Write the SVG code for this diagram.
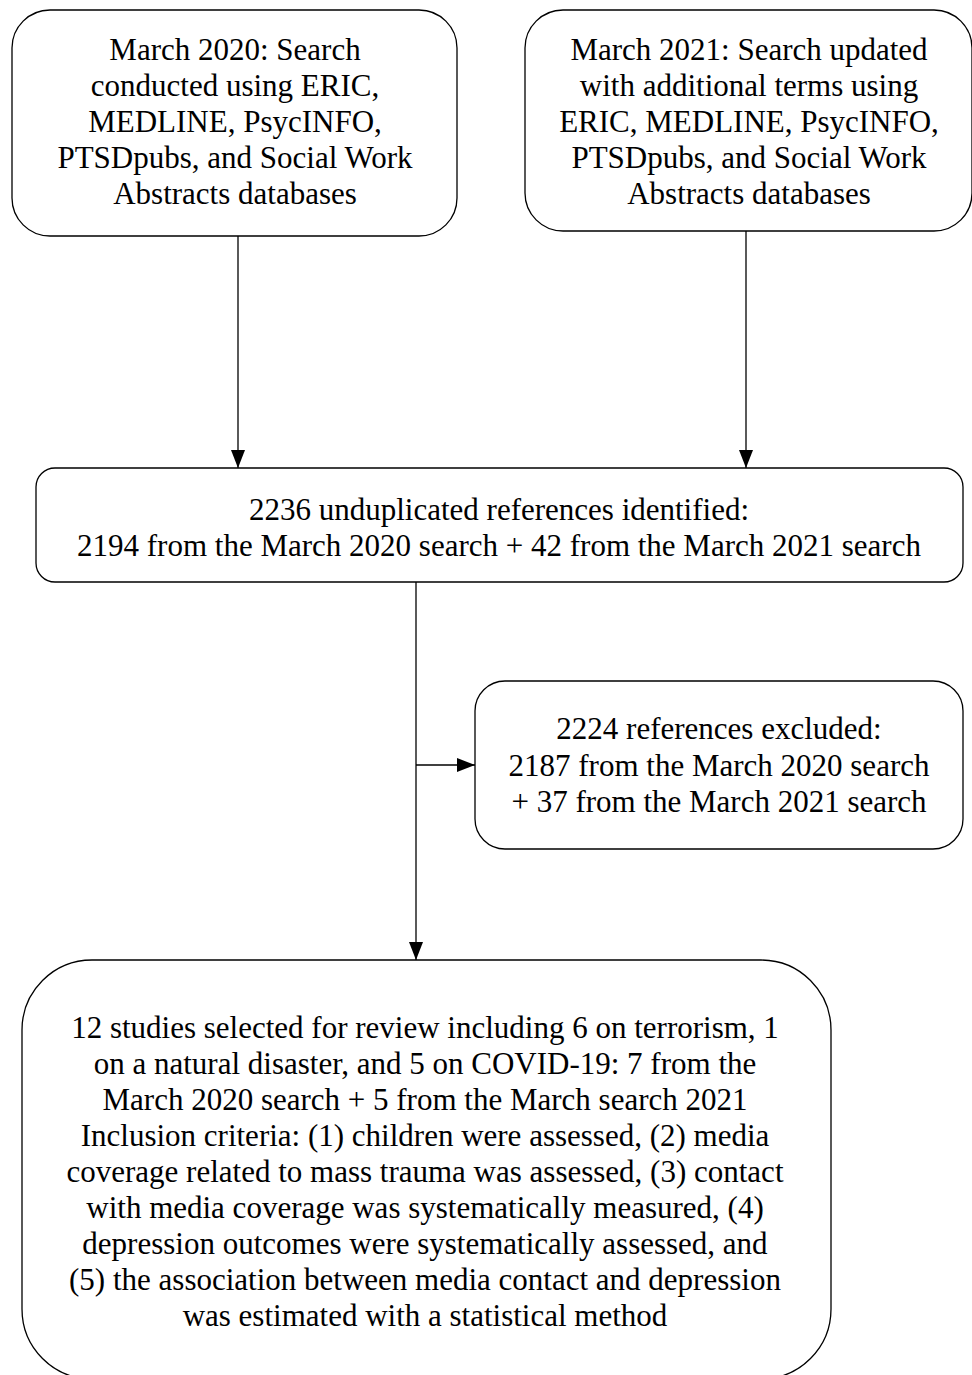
<svg xmlns="http://www.w3.org/2000/svg" width="972" height="1375" viewBox="0 0 972 1375">
<style>
.box{fill:#fff;stroke:#000;stroke-width:1.3}
.t{font-family:'Liberation Serif','Times New Roman',serif;font-size:31px;fill:#000;text-anchor:middle}
.c{stroke:#000;stroke-width:1.3;fill:none}
</style>
<defs>
<marker id="ah" markerWidth="18" markerHeight="14" refX="18" refY="7" orient="auto" markerUnits="userSpaceOnUse">
<path d="M0,0 L18,7 L0,14 Z" fill="#000"/>
</marker>
</defs>
<rect width="972" height="1375" fill="#fff"/>
<g id="connectors">
<line class="c" x1="238" y1="236" x2="238" y2="468" marker-end="url(#ah)"/>
<line class="c" x1="746" y1="231" x2="746" y2="468" marker-end="url(#ah)"/>
<line class="c" x1="416" y1="582" x2="416" y2="960" marker-end="url(#ah)"/>
<line class="c" x1="416" y1="765" x2="475" y2="765" marker-end="url(#ah)"/>
</g>
<g id="n1">
<rect class="box" x="12" y="10" width="445" height="226" rx="38" ry="38"/>
<text class="t" x="235" y="60">March 2020: Search</text>
<text class="t" x="235" y="96">conducted using ERIC,</text>
<text class="t" x="235" y="132">MEDLINE, PsycINFO,</text>
<text class="t" x="235" y="168">PTSDpubs, and Social Work</text>
<text class="t" x="235" y="204">Abstracts databases</text>
</g>
<g id="n2">
<rect class="box" x="525" y="10" width="447" height="221" rx="38" ry="38"/>
<text class="t" x="749" y="60">March 2021: Search updated</text>
<text class="t" x="749" y="96">with additional terms using</text>
<text class="t" x="749" y="132">ERIC, MEDLINE, PsycINFO,</text>
<text class="t" x="749" y="168">PTSDpubs, and Social Work</text>
<text class="t" x="749" y="204">Abstracts databases</text>
</g>
<g id="n3">
<rect class="box" x="36" y="468" width="927" height="114" rx="19" ry="19"/>
<text class="t" x="499" y="520">2236 unduplicated references identified:</text>
<text class="t" x="499" y="556">2194 from the March 2020 search + 42 from the March 2021 search</text>
</g>
<g id="n4">
<rect class="box" x="475" y="681" width="488" height="168" rx="30" ry="30"/>
<text class="t" x="719" y="739">2224 references excluded:</text>
<text class="t" x="719" y="776">2187 from the March 2020 search</text>
<text class="t" x="719" y="812">+ 37 from the March 2021 search</text>
</g>
<g id="n5">
<rect class="box" x="22" y="960" width="809" height="419" rx="70" ry="70"/>
<text class="t" x="425" y="1038">12 studies selected for review including 6 on terrorism, 1</text>
<text class="t" x="425" y="1074">on a natural disaster, and 5 on COVID-19: 7 from the</text>
<text class="t" x="425" y="1110">March 2020 search + 5 from the March search 2021</text>
<text class="t" x="425" y="1146">Inclusion criteria: (1) children were assessed, (2) media</text>
<text class="t" x="425" y="1182">coverage related to mass trauma was assessed, (3) contact</text>
<text class="t" x="425" y="1218">with media coverage was systematically measured, (4)</text>
<text class="t" x="425" y="1254">depression outcomes were systematically assessed, and</text>
<text class="t" x="425" y="1290">(5) the association between media contact and depression</text>
<text class="t" x="425" y="1326">was estimated with a statistical method</text>
</g>
</svg>
